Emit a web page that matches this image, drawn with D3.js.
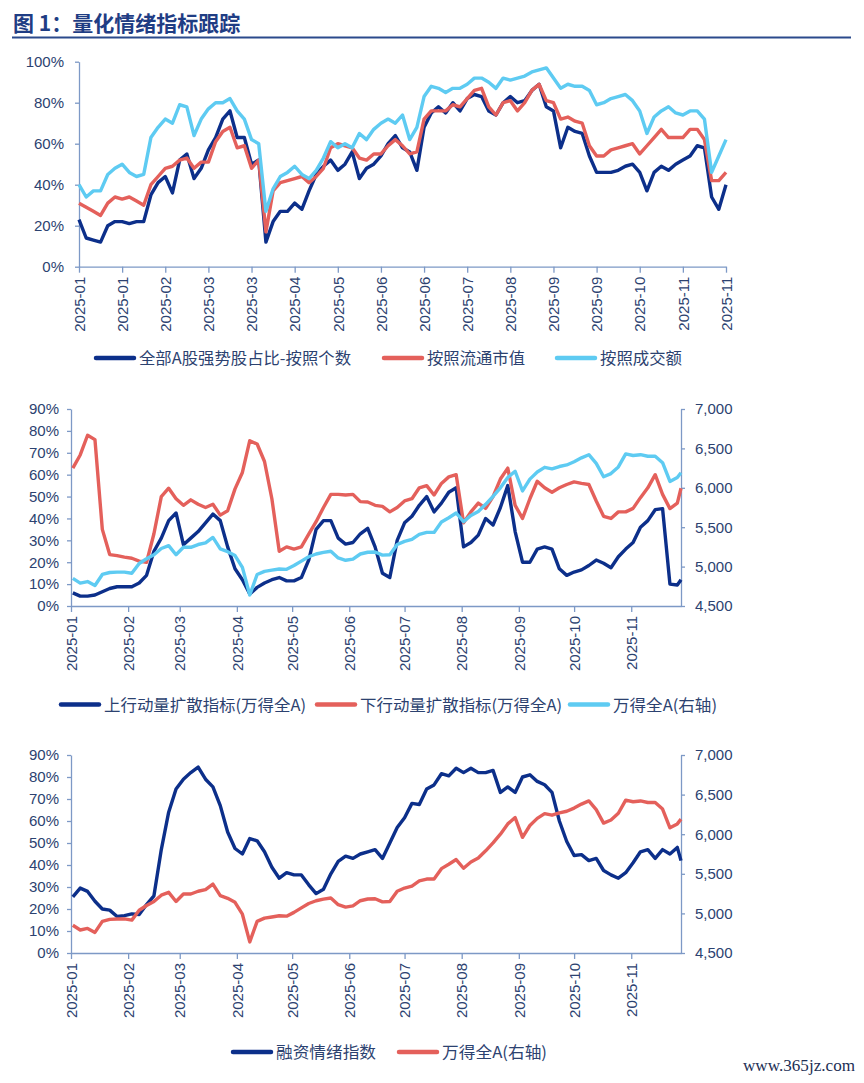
<!DOCTYPE html>
<html>
<head>
<meta charset="utf-8">
<script src="https://cdn.jsdelivr.net/npm/d3@7"></script>
<style>
body { margin: 0; background: #fff; }
svg { display: block; font-family: "Liberation Sans", Arial, sans-serif; }
</style>
</head>
<body>
<svg id="chart" width="864" height="1083"></svg>
<script>
// ---- chart 1: strong stock share (trading-day index, ticks every 6 points)
var ticks1 = ["2025-01","2025-01","2025-02","2025-03","2025-03","2025-04","2025-05","2025-06",
              "2025-06","2025-07","2025-08","2025-09","2025-09","2025-10","2025-11","2025-11"];
var byCount = [23,14,13,12,20,22,22,21,22,22,35,41,44,36,52,55,43,48,57,63,72,76,63,63,50,52,12,22,27,27,
               31,28,37,45,49,52,47,50,56,43,48,50,54,60,64,58,56,47,68,75,
               78,75,80,76,82,84,83,76,74,80,83,80,81,86,89,78,76,58,68,66,65,54,46,46,46,47,49,50,46,37,
               46,49,47,50,52,54,59,58,34,28,40];
var byCap = [31,29,27,25,31,34,33,34,32,30,40,44,48,49,52,53,48,51,51,61,66,68,58,59,48,52,17,37,41,42,
             43,44,41,44,48,58,60,59,58,53,52,55,55,59,62,59,55,56,72,76,
             76,76,79,78,82,86,87,78,74,80,81,76,80,86,89,81,80,72,73,71,70,59,54,54,57,58,59,60,55,59,
             63,67,63,63,63,67,67,62,42,42,46];
var byTurnover = [40,34,37,37,45,48,50,46,44,45,63,68,72,70,79,78,64,72,77,80,80,82,76,72,62,60,27,38,44,46,
                  49,45,43,47,53,61,58,60,58,65,62,67,70,72,70,74,62,68,83,88,
                  87,85,87,87,89,92,92,90,87,92,91,92,93,95,96,97,92,87,89,88,88,86,79,80,82,83,84,81,76,65,
                  73,76,78,75,74,76,76,72,46,54,62];

// ---- charts 2 and 3: sampled dates
var dates = ["01-02","01-06","01-10","01-14","01-18","01-22","01-26","01-30",
             "02-03","02-07","02-11","02-15","02-19","02-23","02-27",
             "03-03","03-07","03-11","03-15","03-19","03-23","03-27","03-31",
             "04-04","04-08","04-12","04-16","04-20","04-24","04-28",
             "05-02","05-06","05-10","05-14","05-18","05-22","05-26","05-30",
             "06-03","06-07","06-11","06-15","06-19","06-23","06-27",
             "07-01","07-05","07-09","07-13","07-17","07-21","07-25","07-29",
             "08-02","08-06","08-10","08-14","08-18","08-22","08-26","08-30",
             "09-03","09-07","09-11","09-15","09-19","09-23","09-27",
             "10-01","10-05","10-09","10-13","10-17","10-21","10-25","10-29",
             "11-02","11-06","11-10","11-14","11-18","11-22","11-26","11-28"];
var monthTicks = ["2025-01","2025-02","2025-03","2025-04","2025-05","2025-06",
                  "2025-07","2025-08","2025-09","2025-10","2025-11"];
var upMomentum = [6,4.5,4.5,5,6.5,8,8.8,8.8,8.8,10.5,14,25,31,39,42.5,28,31,34,38,42,39,27,17,12,5.5,8.5,
                  10.5,12,13,11.5,11.5,13,21,35,39,39,31,28.3,29,33,35.5,27,15,13,30,38,41,46,50,43,47,52,
                  54,27,29,32.4,40,37,45,55,34,20,20,26,27,26,17,14,15.5,16.5,18.5,21,19.5,17.5,22.5,26,29,
                  36,39,44,44.5,10,9.6,12];
var downMomentum = [63,69,78,76,35,23.5,23,22.3,21.8,20.5,20,33,50,53.8,49,46,48.5,46.5,45,46.5,41.5,43.5,
                    53.5,61,75.5,74,66,49,25,27,26,27,32.8,38.5,45,51,51,50.7,51,47.7,47.5,46,45.5,43,45,48,
                    49,54,55,50.7,56,59,60,38,43,47,44.6,50,58,63,46,40,49,57,54,52,54,55.5,56.7,56,55.5,48,
                    41,40,43,43,44.6,49.5,54,60,51,44.5,47,53.8];
var windA = [4850,4790,4810,4760,4900,4925,4930,4930,4915,5040,5100,5150,5230,5266,5150,5245,5245,5280,5300,
             5370,5224,5190,5140,4990,4640,4900,4940,4955,4970,4965,5013,5070,5125,5160,5180,5195,5110,5080,
             5095,5160,5182,5185,5145,5150,5280,5320,5345,5410,5434,5434,5565,5620,5680,5570,5650,5700,5790,
             5890,6000,6130,6210,5960,6110,6200,6260,6240,6270,6290,6330,6380,6420,6310,6140,6180,6265,6430,
             6410,6420,6400,6400,6318,6080,6130,6190];
var marginMood = [25.5,29.5,28,23.5,20,19.5,16.6,17,17.8,17.5,22,26,47,64,74.5,79,82,84.5,79,75.5,67,55,47.5,
                  45,52,51,46,39,34,36.5,35.5,35.5,31,27,29,36,41.6,44,43,45,46,47,43,50,57,61.5,68,67.5,
                  74.5,76.4,81.5,80.5,84,82,84,82,82,83,73,75.5,73,80,81,78,76.5,73,60,50.7,44.3,44.7,42,43,
                  37.5,35.5,34,36.5,41,46,47,43,47,45,48,42];

var NAVY = '#0c2f8a', RED = '#e4605b', CYAN = '#5ecbf2', AXIS = '#7d99c6', TXT = '#2c4270';
var CJK = '"Noto Sans CJK SC", sans-serif';

var svg = d3.select('#chart');
var parse = d3.timeParse('%Y-%m-%d');
var dateObjs = dates.map(function(d){ return parse('2025-' + d); });

// title
svg.append('text')
  .attr('x', 13).attr('y', 31)
  .attr('font-family', CJK).attr('font-weight', 'bold').attr('font-size', 21)
  .attr('fill', '#1f3d84')
  .text('图 1：量化情绪指标跟踪');
svg.append('line')
  .attr('x1', 12).attr('x2', 851).attr('y1', 37.5).attr('y2', 37.5)
  .attr('stroke', '#2b4a8c').attr('stroke-width', 2);

function styleAxis(g) {
  g.select('.domain').attr('stroke', AXIS).attr('stroke-width', 1.3);
  g.selectAll('.tick line').attr('stroke', AXIS).attr('stroke-width', 1.3);
  g.selectAll('.tick text').attr('fill', TXT).attr('font-size', 15)
    .attr('font-family', '"Liberation Sans", Arial, sans-serif');
}

function rotateLabels(g) {
  g.selectAll('.tick text')
    .attr('transform', 'rotate(-90)')
    .attr('text-anchor', 'end')
    .attr('x', -10).attr('y', 0).attr('dy', '0.35em');
}

function drawLine(data, xf, yf, color) {
  svg.append('path')
    .datum(data)
    .attr('fill', 'none')
    .attr('stroke', color)
    .attr('stroke-width', 3.4)
    .attr('stroke-linejoin', 'round')
    .attr('d', d3.line().x(xf).y(yf));
}

function legend(items, y) {
  items.forEach(function(it){
    svg.append('line')
      .attr('x1', it.x).attr('x2', it.x + 38).attr('y1', y).attr('y2', y)
      .attr('stroke', it.color).attr('stroke-width', 4.5).attr('stroke-linecap', 'round');
    svg.append('text')
      .attr('x', it.x + 43).attr('y', y + 6)
      .attr('font-family', CJK).attr('font-size', 16).attr('fill', TXT)
      .attr('textLength', it.w).attr('lengthAdjust', 'spacingAndGlyphs')
      .text(it.label);
  });
}

// ============ chart 1
var x1 = d3.scaleLinear().domain([0, byCount.length - 1]).range([79, 726]);
var y1 = d3.scaleLinear().domain([0, 1]).range([266.7, 61.7]);

svg.append('g').attr('transform', 'translate(79,0)')
  .call(d3.axisLeft(y1).tickValues([0, 0.2, 0.4, 0.6, 0.8, 1]).tickFormat(d3.format('.0%'))
        .tickSize(4).tickPadding(11).tickSizeOuter(0))
  .call(styleAxis);

svg.append('g').attr('transform', 'translate(0,266.7)')
  .call(d3.axisBottom(x1).tickValues(d3.range(0, byCount.length, 6))
        .tickFormat(function(d, i){ return ticks1[i]; }).tickSize(6).tickSizeOuter(0))
  .call(styleAxis).call(rotateLabels);

drawLine(byCount, function(d, i){ return x1(i); }, function(d){ return y1(d / 100); }, NAVY);
drawLine(byCap, function(d, i){ return x1(i); }, function(d){ return y1(d / 100); }, RED);
drawLine(byTurnover, function(d, i){ return x1(i); }, function(d){ return y1(d / 100); }, CYAN);

legend([
  {x: 96, color: NAVY, label: '全部A股强势股占比-按照个数', w: 212},
  {x: 384, color: RED, label: '按照流通市值', w: 98},
  {x: 557, color: CYAN, label: '按照成交额', w: 82}
], 358);

// ============ charts 2 and 3 share the date axis
var xT = d3.scaleTime().domain([parse('2025-01-01'), parse('2025-11-28')]).range([71, 681]);
var monthDates = monthTicks.map(function(m){ return parse(m + '-01'); });
var fmtMonth = d3.timeFormat('%Y-%m');

function dualChart(top, bottom) {
  var yL = d3.scaleLinear().domain([0, 0.9]).range([bottom, top]);
  var yR = d3.scaleLinear().domain([4500, 7000]).range([bottom, top]);
  svg.append('g').attr('transform', 'translate(71,0)')
    .call(d3.axisLeft(yL).tickValues(d3.range(0, 0.91, 0.1)).tickFormat(d3.format('.0%'))
          .tickSize(4).tickPadding(8).tickSizeOuter(0))
    .call(styleAxis);
  svg.append('g').attr('transform', 'translate(681,0)')
    .call(d3.axisRight(yR).tickValues(d3.range(4500, 7001, 500)).tickFormat(d3.format(','))
          .tickSize(4).tickPadding(10).tickSizeOuter(0))
    .call(styleAxis);
  svg.append('g').attr('transform', 'translate(0,' + bottom + ')')
    .call(d3.axisBottom(xT).tickValues(monthDates).tickFormat(fmtMonth).tickSize(6).tickSizeOuter(0))
    .call(styleAxis).call(rotateLabels);
  return {yL: yL, yR: yR};
}

// chart 2
var s2 = dualChart(409, 606);
drawLine(upMomentum, function(d, i){ return xT(dateObjs[i]); }, function(d){ return s2.yL(d / 100); }, NAVY);
drawLine(downMomentum, function(d, i){ return xT(dateObjs[i]); }, function(d){ return s2.yL(d / 100); }, RED);
drawLine(windA, function(d, i){ return xT(dateObjs[i]); }, function(d){ return s2.yR(d); }, CYAN);

legend([
  {x: 61, color: NAVY, label: '上行动量扩散指标(万得全A)', w: 202},
  {x: 317, color: RED, label: '下行动量扩散指标(万得全A)', w: 202},
  {x: 570, color: CYAN, label: '万得全A(右轴)', w: 104}
], 704.5);

// chart 3
var s3 = dualChart(755, 953);
drawLine(marginMood, function(d, i){ return xT(dateObjs[i]); }, function(d){ return s3.yL(d / 100); }, NAVY);
drawLine(windA, function(d, i){ return xT(dateObjs[i]); }, function(d){ return s3.yR(d); }, RED);

legend([
  {x: 233, color: NAVY, label: '融资情绪指数', w: 100},
  {x: 399, color: RED, label: '万得全A(右轴)', w: 105}
], 1052);

// watermark
svg.append('text')
  .attr('x', 743).attr('y', 1071)
  .attr('font-family', '"Liberation Serif", serif').attr('font-size', 16).attr('fill', '#1d2f55')
  .attr('textLength', 112).attr('lengthAdjust', 'spacingAndGlyphs')
  .text('www.365jz.com');
</script>
</body>
</html>
